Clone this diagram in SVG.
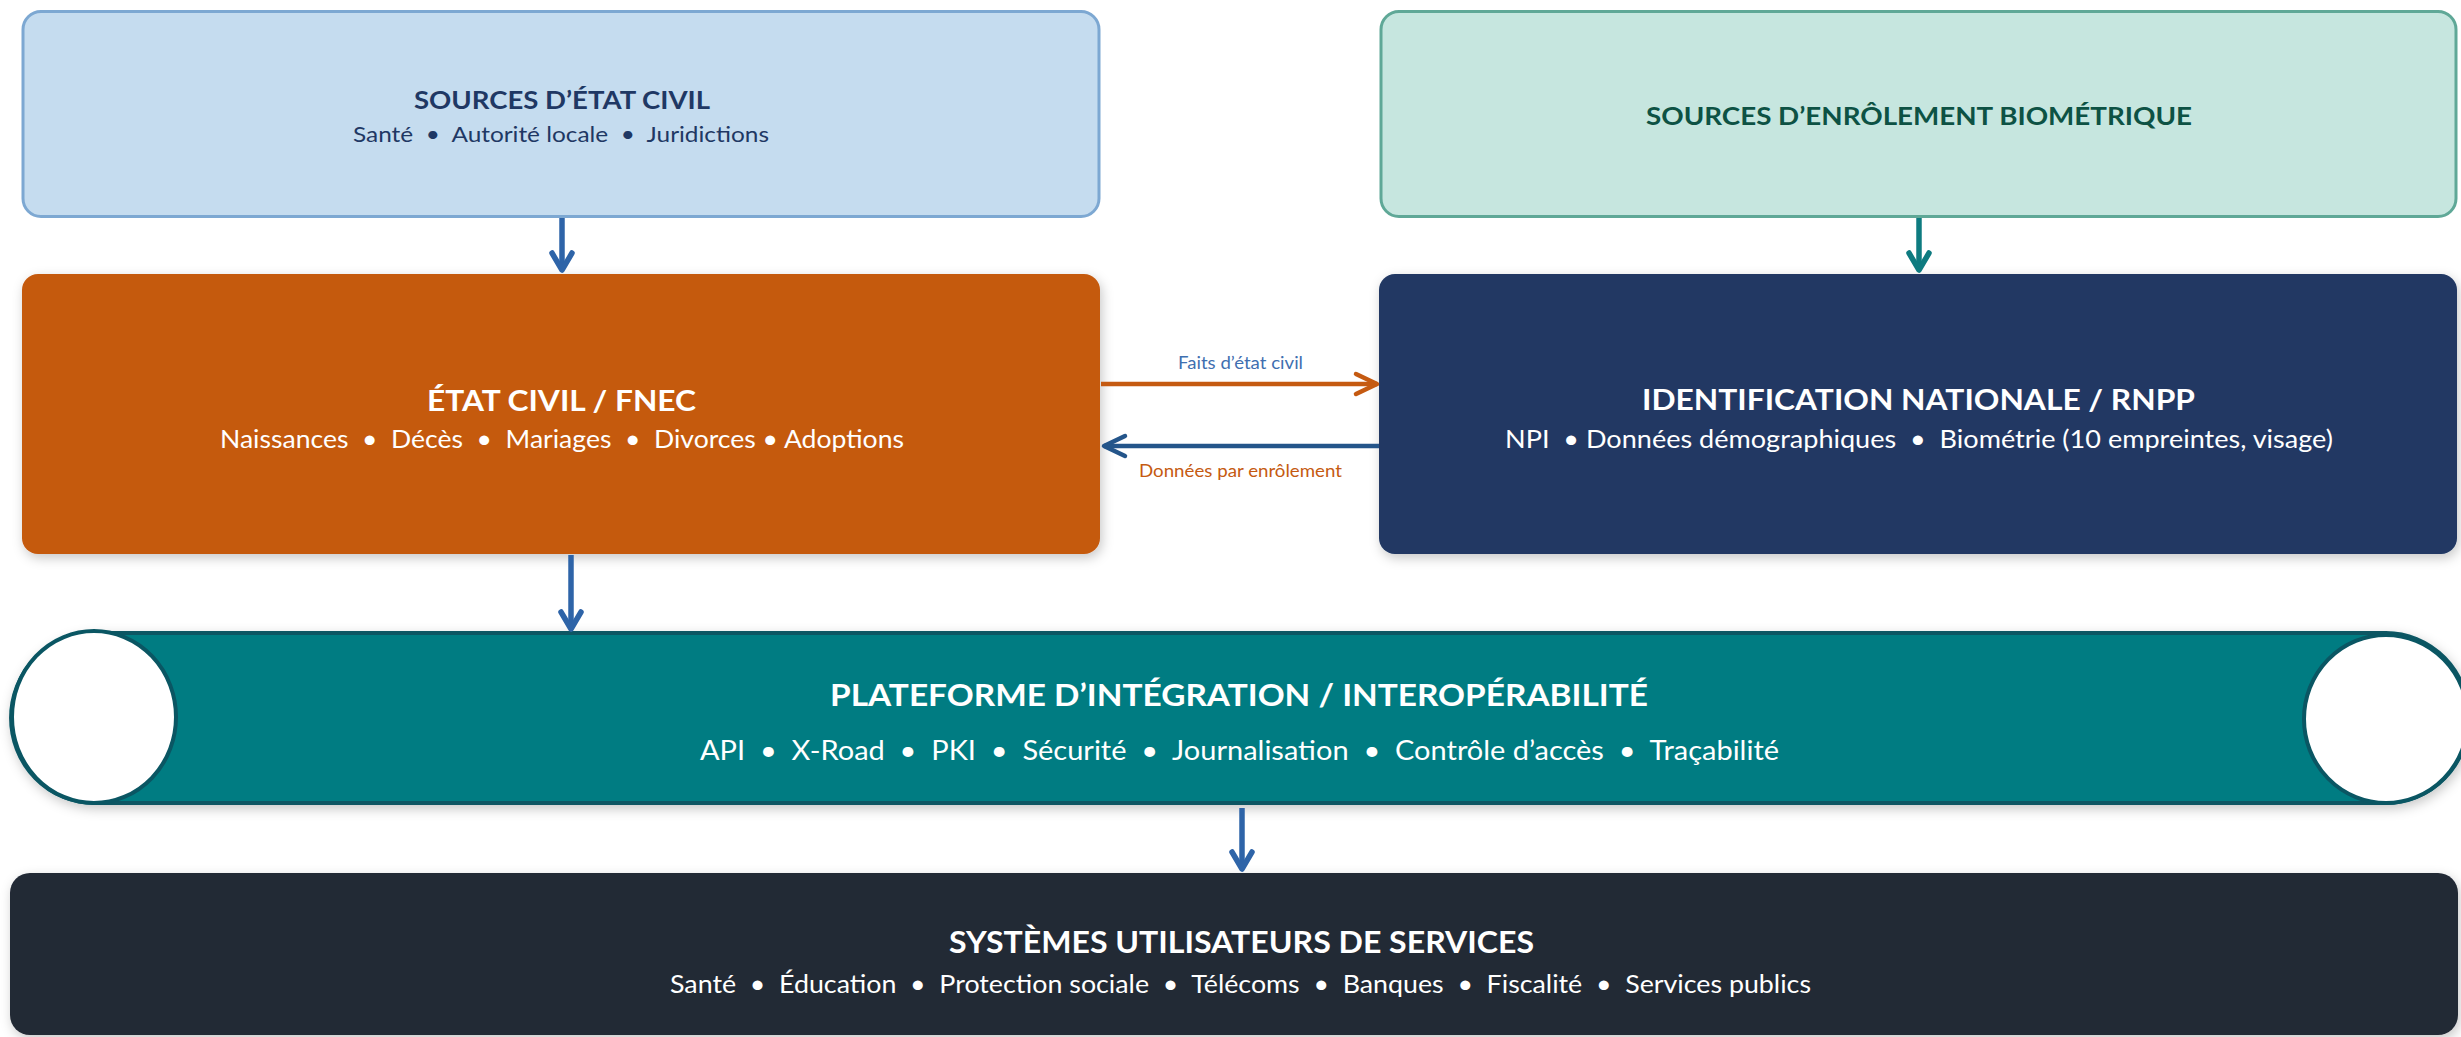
<svg xmlns="http://www.w3.org/2000/svg" width="2461" height="1037" viewBox="0 0 2461 1037">
<style>
text{font-family:Lato,"Open Sans","Liberation Sans",sans-serif}
.t{font-weight:bold}
.w{fill:#ffffff}
.conn{fill:none;stroke-linecap:butt}
</style>
<defs>
<filter id="sh" x="-5%" y="-15%" width="110%" height="140%">
<feDropShadow dx="2" dy="4" stdDeviation="6" flood-color="#000" flood-opacity="0.22"/>
</filter>
<marker id="mB" markerUnits="userSpaceOnUse" viewBox="-30 -20 40 40" refX="0" refY="0" markerWidth="40" markerHeight="40" orient="auto">
<path d="M-17,-10 L0,0 L-17,10" fill="none" stroke="#2E64A8" stroke-width="5.5" stroke-linecap="round" stroke-linejoin="round"/>
</marker>
<marker id="mT" markerUnits="userSpaceOnUse" viewBox="-30 -20 40 40" refX="0" refY="0" markerWidth="40" markerHeight="40" orient="auto">
<path d="M-17,-10 L0,0 L-17,10" fill="none" stroke="#0E7B80" stroke-width="5.5" stroke-linecap="round" stroke-linejoin="round"/>
</marker>
<marker id="mO" markerUnits="userSpaceOnUse" viewBox="-30 -20 40 40" refX="0" refY="0" markerWidth="40" markerHeight="40" orient="auto">
<path d="M-21,-10 L0,0 L-21,10" fill="none" stroke="#C55A11" stroke-width="4.5" stroke-linecap="round" stroke-linejoin="round"/>
</marker>
<marker id="mN" markerUnits="userSpaceOnUse" viewBox="-30 -20 40 40" refX="0" refY="0" markerWidth="40" markerHeight="40" orient="auto">
<path d="M-21,-10 L0,0 L-21,10" fill="none" stroke="#24558A" stroke-width="4.5" stroke-linecap="round" stroke-linejoin="round"/>
</marker>
</defs>
<rect width="2461" height="1037" fill="#ffffff"/>

<g id="sources-etat-civil">
<rect x="23" y="11.5" width="1076" height="205" rx="18" fill="#C5DCEF" stroke="#7DA8D2" stroke-width="3"/>
<text class="t" x="414" y="109" font-size="25" fill="#1F3864" textLength="296" lengthAdjust="spacingAndGlyphs">SOURCES D’ÉTAT CIVIL</text>
<text x="353" y="142" font-size="21" fill="#1F3864" textLength="416" lengthAdjust="spacingAndGlyphs">Santé&#160; •&#160; Autorité locale&#160; •&#160; Juridictions</text>
</g>

<g id="sources-biometrie">
<rect x="1381" y="11.5" width="1075" height="205" rx="18" fill="#C6E6DF" stroke="#5FA897" stroke-width="3"/>
<text class="t" x="1646" y="125" font-size="25" fill="#0D5244" textLength="546" lengthAdjust="spacingAndGlyphs">SOURCES D’ENRÔLEMENT BIOMÉTRIQUE</text>
</g>

<g id="etat-civil-fnec">
<rect x="22" y="274" width="1078" height="280" rx="16" fill="#C55A11" filter="url(#sh)"/>
<text class="t w" x="427" y="411" font-size="29" textLength="269" lengthAdjust="spacingAndGlyphs">ÉTAT CIVIL / FNEC</text>
<text class="w" x="220" y="448" font-size="25" textLength="684" lengthAdjust="spacingAndGlyphs">Naissances&#160; •&#160; Décès&#160; •&#160; Mariages&#160; •&#160; Divorces • Adoptions</text>
</g>

<g id="identification-rnpp">
<rect x="1379" y="274" width="1078" height="280" rx="16" fill="#203864" filter="url(#sh)"/>
<text class="t w" x="1642" y="410" font-size="29" textLength="553" lengthAdjust="spacingAndGlyphs">IDENTIFICATION NATIONALE / RNPP</text>
<text class="w" x="1505" y="448" font-size="25" textLength="828" lengthAdjust="spacingAndGlyphs">NPI&#160; • Données démographiques&#160; •&#160; Biométrie (10 empreintes, visage)</text>
</g>

<g id="plateforme">
<path d="M94,633 H2386 A83,85 0 0 1 2386,803 H94 A83,85 0 0 1 94,633 Z" fill="#037B82" stroke="#0A5663" stroke-width="4" filter="url(#sh)"/>
<ellipse cx="94" cy="717" rx="82" ry="86" fill="#ffffff" stroke="#0A5663" stroke-width="4"/>
<ellipse cx="2386" cy="719" rx="82" ry="84" fill="#ffffff" stroke="#0A5663" stroke-width="4"/>
<text class="t w" x="830" y="706" font-size="31" textLength="818" lengthAdjust="spacingAndGlyphs">PLATEFORME D’INTÉGRATION / INTEROPÉRABILITÉ</text>
<text class="w" x="700" y="760" font-size="27" textLength="1079" lengthAdjust="spacingAndGlyphs">API&#160; •&#160; X-Road&#160; •&#160; PKI&#160; •&#160; Sécurité&#160; •&#160; Journalisation&#160; •&#160; Contrôle d’accès&#160; •&#160; Traçabilité</text>
</g>

<g id="systemes-utilisateurs">
<rect x="10" y="873" width="2448" height="162" rx="20" fill="#232935" filter="url(#sh)"/>
<text class="t w" x="949" y="953" font-size="30" textLength="585" lengthAdjust="spacingAndGlyphs">SYSTÈMES UTILISATEURS DE SERVICES</text>
<text class="w" x="670" y="993" font-size="25" textLength="1141" lengthAdjust="spacingAndGlyphs">Santé&#160; •&#160; Éducation&#160; •&#160; Protection sociale&#160; •&#160; Télécoms&#160; •&#160; Banques&#160; •&#160; Fiscalité&#160; •&#160; Services publics</text>
</g>

<g id="connectors">
<line class="conn" x1="562" y1="218" x2="562" y2="270" stroke="#2E64A8" stroke-width="5.5" marker-end="url(#mB)"/>
<line class="conn" x1="1919" y1="218" x2="1919" y2="270" stroke="#0E7B80" stroke-width="5.5" marker-end="url(#mT)"/>
<line class="conn" x1="571" y1="555" x2="571" y2="629" stroke="#2E64A8" stroke-width="5.5" marker-end="url(#mB)"/>
<line class="conn" x1="1242" y1="808" x2="1242" y2="869" stroke="#2E64A8" stroke-width="5.5" marker-end="url(#mB)"/>
<line class="conn" x1="1101" y1="384" x2="1377" y2="384" stroke="#C55A11" stroke-width="4.5" marker-end="url(#mO)"/>
<line class="conn" x1="1379" y1="446" x2="1104" y2="446" stroke="#24558A" stroke-width="4.5" marker-end="url(#mN)"/>
<text x="1178" y="369" font-size="16.5" fill="#3F6FB0" textLength="125" lengthAdjust="spacingAndGlyphs">Faits d’état civil</text>
<text x="1139" y="477" font-size="16.5" fill="#C55A11" textLength="203" lengthAdjust="spacingAndGlyphs">Données par enrôlement</text>
</g>
</svg>
